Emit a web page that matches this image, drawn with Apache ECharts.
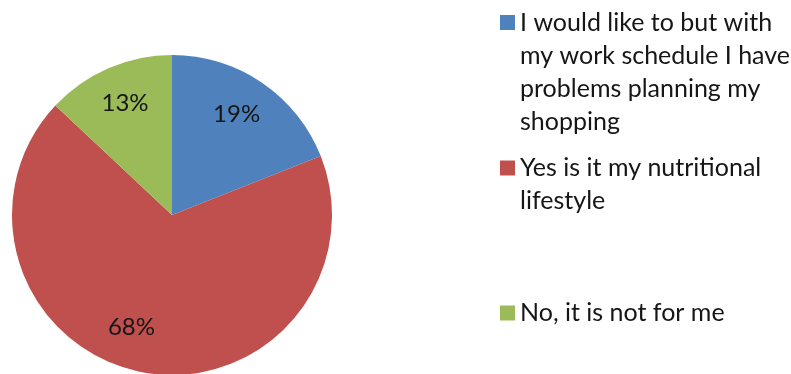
<!DOCTYPE html>
<html>
<head>
<meta charset="utf-8">
<style>
  html, body { margin: 0; padding: 0; background: #fff; }
  #chart { width: 791px; height: 374px; }
</style>
<script src="https://cdn.jsdelivr.net/npm/echarts@6/dist/echarts.min.js"></script>
</head>
<body>
<div id="chart"></div>
<script>
// Survey answers and their shares (percent of respondents)
const categories = [
  'I would like to but with my work schedule I have problems planning my shopping',
  'Yes is it my nutritional lifestyle',
  'No, it is not for me'
];
const shares = [19, 68, 13];
const sliceColors = ['#4F81BD', '#C0504D', '#9BBB59'];

// Wrapped legend text, one entry per answer
const legendLines = [
  ['I would like to but with', 'my work schedule I have', 'problems planning my', 'shopping'],
  ['Yes is it my nutritional', 'lifestyle'],
  ['No, it is not for me']
];

// Nudges that move each percentage label away from the default inside spot
const labelOffsets = [[18, -32], [-25, 31], [-14, -36]];

const LINE_H = 33;
const ICON = 15;
const FONT = 'Lato, "Open Sans", sans-serif';

// The legend draws text centred on the swatch; padding the text block with
// blank lines above keeps the swatch level with the first line.
function legendText(i) {
  const lines = legendLines[i];
  return '\n'.repeat(lines.length - 1) + lines.join('\n');
}

const swatchTops = [15, 160.5, 305.5];
const legends = categories.map((name, i) => {
  const n = legendLines[i].length;
  const halfBlock = (2 * n - 1) * LINE_H / 2;
  return {
    show: true,
    orient: 'vertical',
    left: 500,
    top: swatchTops[i] - (halfBlock - ICON / 2),
    padding: 0,
    itemWidth: ICON,
    itemHeight: ICON,
    icon: 'rect',
    selectedMode: false,
    data: [name],
    formatter: () => legendText(i),
    textStyle: {
      fontFamily: FONT,
      fontSize: 25,
      lineHeight: LINE_H,
      color: '#161616'
    }
  };
});

const chart = echarts.init(document.getElementById('chart'), null, { renderer: 'canvas' });
chart.setOption({
  animation: false,
  backgroundColor: '#fff',
  color: sliceColors,
  legend: legends,
  series: [{
    type: 'pie',
    center: [172, 215],
    radius: 160,
    startAngle: 90,
    clockwise: true,
    avoidLabelOverlap: false,
    itemStyle: { borderWidth: 0 },
    label: {
      show: true,
      position: 'inside',
      formatter: '{c}%',
      fontFamily: FONT,
      fontSize: 24,
      color: '#161616'
    },
    labelLine: { show: false },
    emphasis: { disabled: true },
    data: categories.map((name, i) => ({
      name: name,
      value: shares[i],
      label: { offset: labelOffsets[i] }
    }))
  }]
});
</script>
</body>
</html>
